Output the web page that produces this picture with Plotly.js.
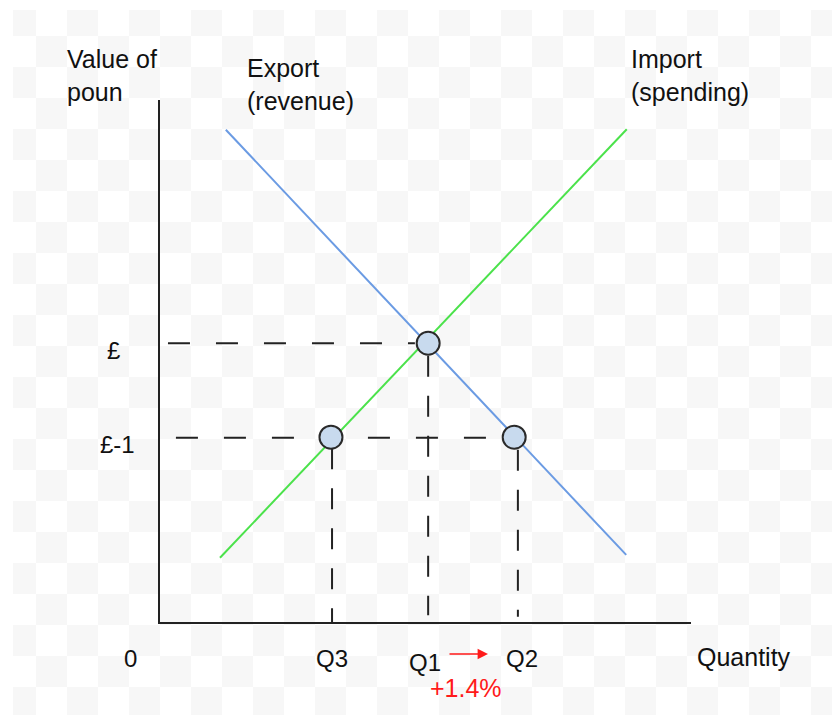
<!DOCTYPE html>
<html>
<head>
<meta charset="utf-8">
<script src="https://cdn.plot.ly/plotly-3.0.1.min.js"></script>
<style>html,body{margin:0;padding:0;background:#fff;}#chart{width:832px;height:715px;}</style>
</head>
<body>
<div id="chart"></div>
<script>
// ---- data (chart units: quantity 0-100, value 0-100) ----
const exportX = [12.4, 87.8];
const exportY = [94.3, 12.85];
const importX = [11.3, 87.9];
const importY = [12.3, 94.4];

const pointX = [50.5, 32.2, 66.7];   // Q1 equilibrium, Q3, Q2
const pointY = [53.4, 35.4, 35.4];

const priceLabels = ['£', '£-1'];
const priceLevels = [53.4, 35.3];
const priceGuideStart = [1.5, 3.0];
const priceGuideEnd = [48.0, 66.0];

const quantityLabels = ['Q3', 'Q1', 'Q2'];
const quantityLevels = [32.4, 50.5, 67.4];
const quantityGuideTop = [33.3, 51.0, 33.0];
const quantityGuideBottom = [0, 1.3, 1.0];

const changeLabel = '+1.4%';

// ---- layout geometry ----
const W = 832, H = 715, L = 160, R = 691, T = 100, B = 622;
const px = p => (p - L) / (R - L);
const py = p => (B - p) / (B - T);
const FONT = 'Liberation Sans, Arial, sans-serif';

const traces = [];
// dashed guides
priceLevels.forEach((lv, i) => {
  traces.push({x: [priceGuideStart[i], priceGuideEnd[i]], y: [lv, lv], mode: 'lines',
    line: {color: '#222', width: 2, dash: '22px,26px'}, hoverinfo: 'skip', showlegend: false});
});
quantityLevels.forEach((lv, i) => {
  traces.push({x: [lv, lv], y: [quantityGuideTop[i], quantityGuideBottom[i]], mode: 'lines',
    line: {color: '#222', width: 2, dash: '21px,19px'}, hoverinfo: 'skip', showlegend: false});
});
// curves
traces.push({x: exportX, y: exportY, mode: 'lines', name: 'Export',
  line: {color: '#6b9be3', width: 2}, showlegend: false});
traces.push({x: importX, y: importY, mode: 'lines', name: 'Import',
  line: {color: '#4be24b', width: 2}, showlegend: false});
// points
traces.push({x: pointX, y: pointY, mode: 'markers', showlegend: false,
  marker: {size: 23, color: '#c8daee', line: {color: '#2a2a2a', width: 2}}});

// checkerboard background
const shapes = [];
for (let c = 0; ; c++) {
  const x0 = c === 0 ? 13 : 36 + 31 * (c - 1);
  if (x0 >= W) break;
  const x1 = Math.min(36 + 31 * c, W);
  for (let r = 0; ; r++) {
    const y0 = r === 0 ? 10 : 36 + 31 * (r - 1);
    if (y0 >= H) break;
    const y1 = Math.min(36 + 31 * r, H);
    if ((c + r) % 2 === 0) {
      shapes.push({type: 'rect', xref: 'paper', yref: 'paper', layer: 'below',
        x0: px(x0), x1: px(x1), y0: py(y1), y1: py(y0),
        fillcolor: '#f7f7f7', line: {width: 0}});
    }
  }
}

const txt = (size, color) => ({family: FONT, size: size, color: color || '#111'});
const annotations = [];
// price labels
const priceLabelX = [113, 117];
priceLevels.forEach((lv, i) => {
  annotations.push({text: priceLabels[i], xref: 'paper', yref: 'y', x: px(priceLabelX[i]), y: lv,
    yshift: -7, xanchor: 'center', yanchor: 'middle', showarrow: false, font: txt(24)});
});
// quantity labels
const qShiftX = [0, -3, 4], qShiftY = [0, -4, 0];
quantityLevels.forEach((lv, i) => {
  annotations.push({text: quantityLabels[i], xref: 'x', yref: 'paper', x: lv, y: py(658),
    xshift: qShiftX[i], yshift: qShiftY[i], xanchor: 'center', yanchor: 'middle', showarrow: false, font: txt(24)});
});
annotations.push({text: '0', xref: 'paper', yref: 'paper', x: px(130), y: py(658),
  xanchor: 'center', yanchor: 'middle', showarrow: false, font: txt(24)});
annotations.push({text: 'Quantity', xref: 'paper', yref: 'paper', x: px(695), y: py(657),
  xanchor: 'left', yanchor: 'middle', showarrow: false, font: txt(25)});
annotations.push({text: 'Value of<br>poun', xref: 'paper', yref: 'paper', x: px(65), y: py(75),
  xanchor: 'left', yanchor: 'middle', align: 'left', showarrow: false, font: txt(25)});
annotations.push({text: 'Export<br>(revenue)', xref: 'paper', yref: 'paper', x: px(245), y: py(85),
  xanchor: 'left', yanchor: 'middle', align: 'left', showarrow: false, font: txt(25)});
annotations.push({text: 'Import<br>(spending)', xref: 'paper', yref: 'paper', x: px(629), y: py(75),
  xanchor: 'left', yanchor: 'middle', align: 'left', showarrow: false, font: txt(25)});
// change arrow and label
annotations.push({text: '', xref: 'paper', yref: 'paper', x: px(488), y: py(654),
  axref: 'pixel', ayref: 'pixel', ax: -40, ay: 0, showarrow: true,
  arrowhead: 2, arrowsize: 1.3, arrowwidth: 1.6, arrowcolor: '#ff1a1a'});
annotations.push({text: changeLabel, xref: 'paper', yref: 'paper', x: px(466), y: py(688),
  xanchor: 'center', yanchor: 'middle', showarrow: false, font: txt(25, '#ff1a1a')});

const axisBase = {showgrid: false, zeroline: false, showticklabels: false, ticks: '',
  showline: true, linecolor: '#222', linewidth: 2, fixedrange: true};

const layout = {
  width: W, height: H,
  margin: {l: L, r: W - R, t: T, b: H - B, pad: 0},
  paper_bgcolor: '#ffffff', plot_bgcolor: 'rgba(0,0,0,0)',
  xaxis: Object.assign({range: [0, 100]}, axisBase),
  yaxis: Object.assign({range: [0, 100]}, axisBase),
  shapes: shapes, annotations: annotations, showlegend: false,
  font: {family: FONT}
};

Plotly.newPlot('chart', traces, layout, {displayModeBar: false, staticPlot: true});
</script>
</body>
</html>
